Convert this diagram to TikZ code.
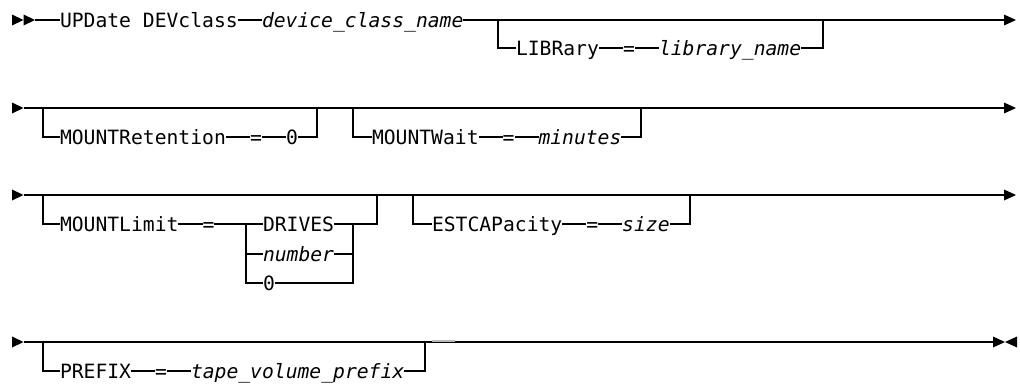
\documentclass[tikz,border=0pt]{standalone}
\usepackage{fontspec}
\newfontfamily\mono{DejaVu Sans Mono}
\begin{document}
\begin{tikzpicture}[x=0.75pt,y=-0.75pt,line width=0.8pt,
  t/.style={anchor=west,inner sep=0pt,outer sep=0pt,text height=10.76pt,text depth=0pt,
            font=\fontsize{14.76pt}{16pt}\selectfont\mono},
  it/.style={t,font=\fontsize{14.76pt}{16pt}\selectfont\mono\itshape},
  tri/.style={fill=black,draw=none}]
\useasboundingbox (0,0) rectangle (1020,383);
% ---------------- row 1
\fill[tri] (12,14.5) -- (23.5,20) -- (12,25.5) -- cycle;
\fill[tri] (23.5,14.5) -- (35,20) -- (23.5,25.5) -- cycle;
\coordinate (s1) at (35,20);
\node[t] (upd) at (60,20) {UPDate DEVclass};
\node[it] (dcn) at (262,20) {device\_class\_name};
\coordinate (e1) at (1004,20);
\draw (s1) -- (upd);
\draw (upd) -- (dcn);
\draw (dcn) -- (e1);
\fill[tri] (1004,14.5) -- (1016,20) -- (1004,25.5) -- cycle;
\coordinate (b1) at (498,20);
\coordinate (b1r) at (823,20);
\node[t] (lib) at (516,48) {LIBRary};
\node[t] (eq1) at (623,48) {=};
\node[it] (libn) at (659,48) {library\_name};
\draw (b1) |- (lib);
\draw (lib) -- (eq1);
\draw (eq1) -- (libn);
\draw (libn) -| (b1r);
% ---------------- row 2
\fill[tri] (12,102.5) -- (23.5,108) -- (12,113.5) -- cycle;
\coordinate (s2) at (23.5,108);
\coordinate (e2) at (1004,108);
\draw (s2) -- (e2);
\fill[tri] (1004,102.5) -- (1016,108) -- (1004,113.5) -- cycle;
\coordinate (b2) at (43,108);
\coordinate (b2r) at (317,108);
\node[t] (mr) at (60,137) {MOUNTRetention};
\node[t] (eq2) at (250,137) {=};
\node[t] (z2) at (286,137) {0};
\draw (b2) |- (mr);
\draw (mr) -- (eq2);
\draw (eq2) -- (z2);
\draw (z2) -| (b2r);
\coordinate (b3) at (353,108);
\coordinate (b3r) at (641,108);
\node[t] (mw) at (372,137) {MOUNTWait};
\node[t] (eq3) at (502.7,137) {=};
\node[it] (min) at (538.5,137) {minutes};
\draw (b3) |- (mw);
\draw (mw) -- (eq3);
\draw (eq3) -- (min);
\draw (min) -| (b3r);
% ---------------- row 3
\fill[tri] (12,189.5) -- (23.5,195) -- (12,200.5) -- cycle;
\coordinate (s3) at (23.5,195);
\coordinate (e3) at (1004,195);
\draw (s3) -- (e3);
\fill[tri] (1004,189.5) -- (1016,195) -- (1004,200.5) -- cycle;
\coordinate (b4) at (43,195);
\coordinate (b4r) at (377,195);
\node[t] (ml) at (60,224) {MOUNTLimit};
\node[t] (eq4) at (202.5,224) {=};
\node[t] (drv) at (263,224) {DRIVES};
\node[it] (num) at (263,254) {number};
\node[t] (z3) at (263,283) {0};
\coordinate (cl) at (246,224);
\coordinate (cr) at (353,224);
\draw (b4) |- (ml);
\draw (ml) -- (eq4);
\draw (eq4) -- (drv);
\draw (drv) -| (b4r);
\draw (cl) |- (num);
\draw (cl) |- (z3);
\draw (num) -| (cr);
\draw (z3) -| (cr);
\coordinate (b5) at (413,195);
\coordinate (b5r) at (690,195);
\node[t] (est) at (432,224) {ESTCAPacity};
\node[t] (eq5) at (586.4,224) {=};
\node[it] (sz) at (622.2,224) {size};
\draw (b5) |- (est);
\draw (est) -- (eq5);
\draw (eq5) -- (sz);
\draw (sz) -| (b5r);
% ---------------- row 4
\fill[tri] (12,336.5) -- (23.5,342) -- (12,347.5) -- cycle;
\coordinate (s4) at (23.5,342);
\coordinate (e4) at (993,342);
\draw (s4) -- (e4);
\fill[tri] (993,336.5) -- (1005,342) -- (993,347.5) -- cycle;
\fill[tri] (1017,336.5) -- (1005,342) -- (1017,347.5) -- cycle;
\draw[gray!55,line width=1.2pt] (432,340.8) -- (455,340.8);
\coordinate (b6) at (43,342);
\coordinate (b6r) at (425,342);
\node[t] (pre) at (60,371) {PREFIX};
\node[t] (eq6) at (155.1,371) {=};
\node[it] (tvp) at (191,371) {tape\_volume\_prefix};
\draw (b6) |- (pre);
\draw (pre) -- (eq6);
\draw (eq6) -- (tvp);
\draw (tvp) -| (b6r);
\end{tikzpicture}
\end{document}
